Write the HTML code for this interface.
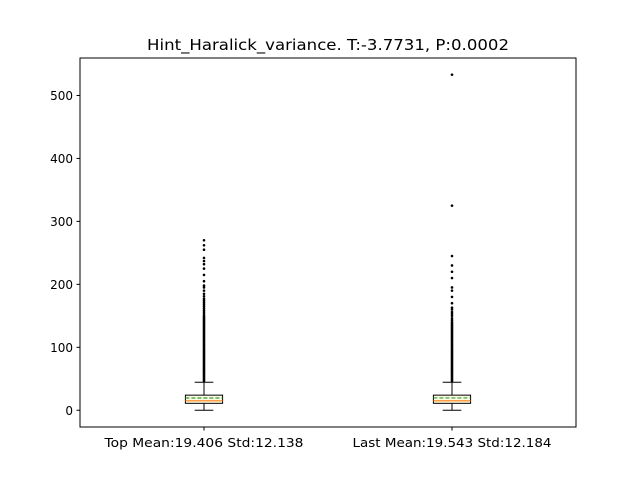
<!DOCTYPE html>
<html><head><meta charset="utf-8"><style>
body{margin:0;background:#fff;}
svg{font-family:"DejaVu Sans","Liberation Sans",sans-serif;}
</style></head><body>
<svg id="chart" width="640" height="480" viewBox="0 0 640 480">
<rect width="640" height="480" fill="#fff"/>
<text x="328" y="50" font-size="15" text-anchor="middle" textLength="362" lengthAdjust="spacingAndGlyphs">Hint_Haralick_variance. T:-3.7731, P:0.0002</text>
<g id="plot"></g>
<rect x="80" y="58" width="496" height="369" fill="none" stroke="#000" stroke-width="1"/>
</svg>
<script>
const categories = ["Top Mean:19.406 Std:12.138", "Last Mean:19.543 Std:12.184"];
const whiskLow = [0, 0];
const q1 = [11, 11];
const medians = [15, 15];
const means = [19.406, 19.543];
const q3 = [24, 24];
const whiskHigh = [44.5, 44.5];
const fliers1 = [46,48,50,52,54,56,58,60,62,64,66,68,70,72,74,76,78,80,82,84,86,88,90,92,94,96,98,100,102,104,106,108,110,112,114,116,118,120,122,124,126,128,130,132,134,136,138,140,142,144,146,148,150,153,156,159,162,165,168,171,174,177,181,185,190,195,198,205,215,225,232,237,242,255,262,270];
const fliers2 = [46,48,50,52,54,56,58,60,62,64,66,68,70,72,74,76,78,80,82,84,86,88,90,92,94,96,98,100,102,104,106,108,110,112,114,116,118,120,122,124,126,128,130,132,134,136,138,140,143,146,150,153,156,160,163,170,180,190,195,210,220,230,245,325,533];
const fliers = [fliers1, fliers2];
const yTicks = [0,100,200,300,400,500];

const NS="http://www.w3.org/2000/svg";
const g=document.getElementById('plot');
const L=80,R=576,T=58,B=427;
const yMin=-26.6, yMax=559.5;
function y(v){return B-(v-yMin)/(yMax-yMin)*(B-T);}
function x(i){return L+(i+0.5)/categories.length*(R-L);}
function mk(tag,attrs){const e=document.createElementNS(NS,tag);for(const k in attrs)e.setAttribute(k,attrs[k]);g.appendChild(e);return e;}

yTicks.forEach(t=>{
  const tk=mk('line',{x1:L-3.5,x2:L,y1:y(t),y2:y(t),stroke:'#000'});
  
  
  const tx=mk('text',{x:L-7,y:y(t)+4.5,'font-size':12,'text-anchor':'end'});
  tx.textContent=t;
  
  
});
const hw=18.6, cw=9.3;
categories.forEach((c,i)=>{
  const cx=x(i);
  const tk=mk('line',{x1:cx,x2:cx,y1:B,y2:B+3.5,stroke:'#000'});
  
  
  const tx=mk('text',{x:cx,y:B+20,'font-size':12.5,'text-anchor':'middle',textLength:199,lengthAdjust:'spacingAndGlyphs'});
  tx.textContent=c;
  
  
  const w1=mk('line',{x1:cx,x2:cx,y1:y(q1[i]),y2:y(whiskLow[i]),stroke:'#000'});
  
  
  const w2=mk('line',{x1:cx,x2:cx,y1:y(q3[i]),y2:y(whiskHigh[i]),stroke:'#000'});
  
  
  const c1=mk('line',{x1:cx-cw,x2:cx+cw,y1:y(whiskLow[i]),y2:y(whiskLow[i]),stroke:'#000'});
  
  
  const c2=mk('line',{x1:cx-cw,x2:cx+cw,y1:y(whiskHigh[i]),y2:y(whiskHigh[i]),stroke:'#000'});
  
  
  const bx=mk('rect',{x:cx-hw,y:y(q3[i]),width:2*hw,height:y(q1[i])-y(q3[i]),fill:'#fffbe6',stroke:'#000'});
  
  
  const md=mk('line',{x1:cx-hw,x2:cx+hw,y1:y(medians[i]),y2:y(medians[i]),stroke:'#ff7f0e','stroke-width':1.2});
  
  
  const mn=mk('line',{x1:cx-hw,x2:cx+hw,y1:y(means[i]),y2:y(means[i]),stroke:'#2ca02c','stroke-width':1.2,'stroke-dasharray':'4,2'});
  
  
  fliers[i].forEach(v=>{
    const p=mk('circle',{cx:cx,cy:y(v),r:1.3,fill:'#000'});
    
    
  });
});
</script>
</body></html>
